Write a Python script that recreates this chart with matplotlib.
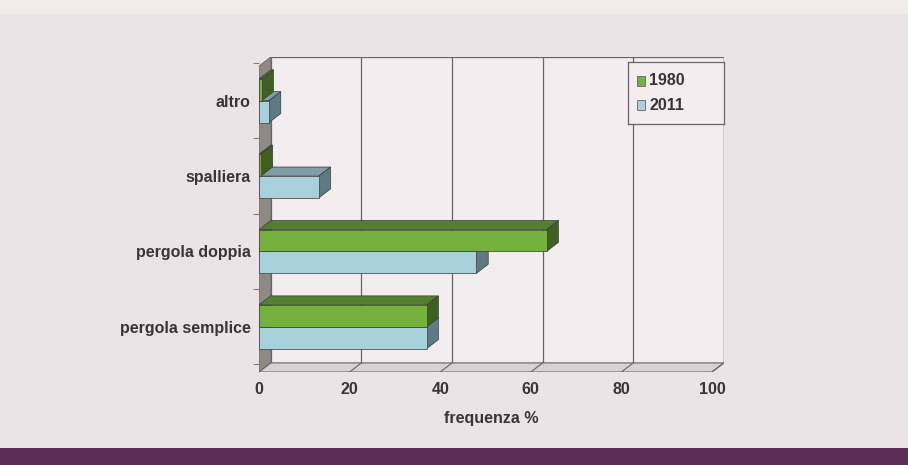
import matplotlib.pyplot as plt
from matplotlib.patches import Polygon, Rectangle

categories = ["pergola semplice", "pergola doppia", "spalliera", "altro"]
val_1980 = [37, 63.5, 0.4, 0.6]
val_2011 = [37, 48, 13.2, 2.2]
years = ["1980", "2011"]
xticks = [0, 20, 40, 60, 80, 100]

bg = "#ece3e6"
wall = "#f3edef"
green, green_top, green_side = "#76b13f", "#557f30", "#3f5f25"
blue, blue_top, blue_side = "#a9d1dc", "#7f9ea7", "#5f7a82"
txt = "#3a3338"
fs = 11.5

fig = plt.figure(figsize=(9.08, 4.65), dpi=100, facecolor=bg)
# lighter strip at top of the scan
fig.add_artist(Rectangle((0, 1 - 14 / 465), 1, 14 / 465, transform=fig.transFigure,
                         facecolor="#f2ebec", edgecolor="none"))

ax = fig.add_axes([259 / 908, (465 - 372) / 465, 465 / 908, 315 / 465])
ax.set_facecolor("none")
ylo, yhi = -0.6, 3.58
xhi = 102.65
dx, dy = 2.6, 0.12
ax.set_xlim(0, xhi)
ax.set_ylim(ylo, yhi)

# back wall, left wall, floor
ax.add_patch(Rectangle((dx, ylo + dy), 100, yhi - ylo - dy, facecolor=wall,
                       edgecolor="#6a6468", lw=0.9, zorder=0))
ax.add_patch(Polygon([(0, ylo), (dx, ylo + dy), (dx, yhi), (0, yhi - dy)],
                     closed=True, facecolor="#8f8a86", edgecolor="#6a6468", lw=0.6, zorder=1))
ax.add_patch(Polygon([(0, ylo), (100, ylo), (100 + dx, ylo + dy), (dx, ylo + dy)],
                     closed=True, facecolor="#d9d2d5", edgecolor="#6a6468", lw=0.8, zorder=1))
for t in xticks[1:]:
    ax.plot([t + dx, t + dx], [ylo + dy, yhi], color="#6a6468", lw=0.9, zorder=0.5)
    ax.plot([t, t + dx], [ylo, ylo + dy], color="#6a6468", lw=0.8, zorder=1.2)


def bar3d(y0, h, v, front, top, side):
    ax.add_patch(Polygon([(0, y0 + h), (v, y0 + h), (v + dx, y0 + h + dy), (dx, y0 + h + dy)],
                         closed=True, facecolor=top, edgecolor="#3a3a3a", lw=0.5, zorder=3))
    ax.add_patch(Polygon([(v, y0), (v + dx, y0 + dy), (v + dx, y0 + h + dy), (v, y0 + h)],
                         closed=True, facecolor=side, edgecolor="#3a3a3a", lw=0.5, zorder=3))
    ax.barh(y0 + h / 2, v, height=h, left=0, color=front, edgecolor="#3a3a3a",
            lw=0.5, zorder=3)


h = 0.29
for i in range(len(categories)):
    bar3d(i - h, h, val_2011[i], blue, blue_top, blue_side)
    bar3d(i, h, val_1980[i], green, green_top, green_side)

for s in ax.spines.values():
    s.set_visible(False)
ax.set_xticks(xticks)
ax.set_xticklabels([str(t) for t in xticks], fontsize=fs, fontweight="bold",
                   color=txt, family="Liberation Sans")
ax.tick_params(axis="x", length=0, pad=7)
ax.set_yticks(range(len(categories)))
ax.set_yticklabels(categories, fontsize=fs, fontweight="bold", color=txt,
                   family="Liberation Sans")
ax.tick_params(axis="y", length=0, pad=6)
ax.set_yticks([-0.5, 0.5, 1.5, 2.5, 3.5], minor=True)
ax.tick_params(axis="y", which="minor", length=4, color="#6a6468")
ax.set_xlabel("frequenza %", fontsize=fs, fontweight="bold", color=txt,
              family="Liberation Sans", labelpad=10)

# legend box
lax = fig.add_axes([628 / 908, (465 - 124) / 465, 96 / 908, 62 / 465])
lax.set_xlim(0, 1)
lax.set_ylim(0, 1)
lax.set_facecolor(wall)
for s in lax.spines.values():
    s.set_color("#6a6468")
    s.set_linewidth(0.9)
lax.set_xticks([])
lax.set_yticks([])
for yy, lab, c in zip([0.7, 0.3], years, [green, blue]):
    lax.add_patch(Rectangle((0.09, yy - 0.08), 0.085, 0.16, facecolor=c,
                            edgecolor="#6a6468", lw=0.6))
    lax.text(0.22, yy, lab, fontsize=fs, fontweight="bold", color=txt,
             va="center", family="Liberation Sans")

# purple band
fig.add_artist(Rectangle((0, 0), 1, 17 / 465, transform=fig.transFigure,
                         facecolor="#5b2c55", edgecolor="none"))

fig.savefig("out.png", dpi=100, facecolor=bg)
